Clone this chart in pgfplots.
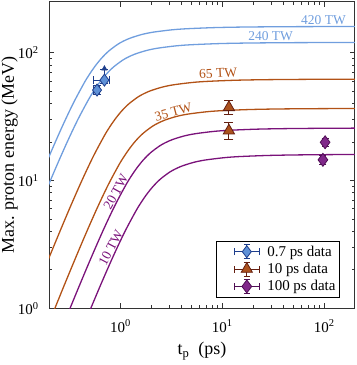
\documentclass[border=0pt]{standalone}
\usepackage{fontspec}
\setmainfont{Liberation Serif}
\usepackage{pgfplots}
\pgfplotsset{compat=1.18}
\definecolor{blueline}{RGB}{112,158,222}
\definecolor{orangeline}{RGB}{178,82,22}
\definecolor{purpleline}{RGB}{122,18,122}
\definecolor{bluefill}{RGB}{95,145,215}
\definecolor{bluedark}{RGB}{30,62,140}
\definecolor{brownfill}{RGB}{172,82,30}
\definecolor{browndark}{RGB}{100,30,15}
\definecolor{purplefill}{RGB}{128,40,138}
\definecolor{purpledark}{RGB}{80,15,85}
\pgfplotsset{
  errleg/.style={legend image code/.code={
    \path[fill=none, draw=none] (0pt,-7.5pt) rectangle (47pt,7.5pt);
    \draw[line width=0.9pt,##1, fill=none] (16pt,0pt) -- (41pt,0pt)
      (16pt,-3.5pt) -- (16pt,3.5pt) (41pt,-3.5pt) -- (41pt,3.5pt)
      (28.5pt,-7pt) -- (28.5pt,7pt) (25.5pt,7pt) -- (31.5pt,7pt) (25.5pt,-7pt) -- (31.5pt,-7pt);
    \draw[##1] plot coordinates {(28.5pt,0pt)};
  }},
  curve/.style={line width=1.3pt, smooth, forget plot},
}
\tikzset{clab/.style={font=\fontsize{13.5}{16}\selectfont, inner sep=0.5pt}}
\begin{document}
\begin{tikzpicture}
\begin{axis}[name=ax, scale only axis, width=306pt, height=307pt,
  xmode=log, ymode=log, xmin=0.2, xmax=200, ymin=1, ymax=250,
  xtick={1,10,100}, xticklabels={10\textsuperscript{0},10\textsuperscript{1},10\textsuperscript{2}},
  ytick={1,10,100}, yticklabels={10\textsuperscript{0},10\textsuperscript{1},10\textsuperscript{2}},
  tick align=inside, major tick length=5pt, minor tick length=3pt,
  every tick/.style={black!80, line width=0.8pt},
  axis line style={black!80, line width=1pt},
  tick label style={font=\fontsize{15}{18}\selectfont},
  xticklabel style={yshift=-8pt},
  yticklabel style={xshift=-7pt},
  xlabel={t\textsubscript{p}\ \ (ps)}, ylabel={Max. proton energy (MeV)},
  label style={font=\fontsize{18}{21}\selectfont},
  xlabel style={at={(axis description cs:0.5,-0.14)}, anchor=center},
  ylabel style={at={(axis description cs:-0.13,0.5)}, anchor=center},
  legend style={at={(0.951,0.036)}, anchor=south east, draw=black, line width=0.8pt,
    font=\fontsize{15}{18}\selectfont, cells={anchor=west}, row sep=1.5pt,
    inner xsep=2pt, inner ysep=2.5pt},
]
% model curves
\addplot[curve, blueline] coordinates {(0.1257,6.4) (0.1921,14.4) (0.2635,25.6) (0.3435,40) (0.4387,57.6) (0.4961,67.6) (0.5642,78.4) (0.6490,90) (0.7627,102.4) (0.9330,115.6) (1.0598,122.5) (1.2414,129.6) (1.6123,138.38) (2.0887,144.4) (3.1690,150.54) (4.4958,153.66) (8.4282,156.82) (16.234,158.40) (39.556,159.36) (78.359,159.68) (200,159.88)};
\addplot[curve, blueline] coordinates {(0.1399,4.8) (0.2138,10.8) (0.2932,19.2) (0.3823,30) (0.4883,43.2) (0.5521,50.7) (0.6279,58.8) (0.7223,67.5) (0.8488,76.8) (1.0383,86.7) (1.1795,91.88) (1.3816,97.2) (1.7944,103.79) (2.3245,108.3) (3.5268,112.91) (5.0034,115.25) (9.3798,117.61) (18.067,118.80) (44.022,119.52) (87.206,119.76) (200,119.9)};
\addplot[curve, orangeline] coordinates {(0.0983,0.62) (0.1987,2.48) (0.3036,5.58) (0.4165,9.92) (0.5429,15.5) (0.6935,22.32) (0.7842,26.2) (0.8918,30.38) (1.0259,34.88) (1.2056,39.68) (1.4747,44.8) (1.6752,47.47) (1.9622,50.22) (2.5485,53.62) (3.3015,55.96) (5.0091,58.34) (7.1062,59.55) (13.322,60.77) (25.66,61.38) (62.524,61.75) (123.86,61.88) (200,61.92)};
\addplot[curve, orangeline] coordinates {(0.1365,0.366) (0.2757,1.464) (0.4213,3.294) (0.5779,5.856) (0.7534,9.15) (0.9624,13.18) (1.0883,15.46) (1.2375,17.93) (1.4236,20.59) (1.6731,23.42) (2.0465,26.44) (2.3247,28.02) (2.7231,29.65) (3.5367,31.66) (4.5816,33.03) (6.9514,34.44) (9.8617,35.15) (18.488,35.87) (35.609,36.24) (86.768,36.45) (200,36.54)};
\addplot[curve, purpleline] coordinates {(0.1606,0.257) (0.3244,1.028) (0.4957,2.313) (0.6799,4.112) (0.8864,6.425) (1.1322,9.252) (1.2803,10.86) (1.4559,12.59) (1.6749,14.46) (1.9683,16.45) (2.4077,18.57) (2.7350,19.68) (3.2036,20.82) (4.1609,22.23) (5.3902,23.19) (8.1781,24.18) (11.602,24.68) (21.750,25.19) (41.894,25.44) (102.08,25.6) (200,25.66)};
\addplot[curve, purpleline] coordinates {(0.2007,0.16) (0.4055,0.64) (0.6196,1.44) (0.8499,2.56) (1.108,4.0) (1.4153,5.76) (1.6004,6.76) (1.8199,7.84) (2.0936,9.0) (2.4604,10.24) (3.0096,11.56) (3.4187,12.25) (4.0045,12.96) (5.2011,13.84) (6.7377,14.44) (10.2226,15.05) (14.5025,15.37) (27.1877,15.68) (52.3669,15.84) (127.6,15.94) (200,15.96)};
% curve labels
\node[clab, blueline] at (axis cs:98.4,178.9) {420 TW};
\node[clab, blueline] at (axis cs:29.8,134) {240 TW};
\node[clab, orangeline, rotate=3] at (axis cs:9.09,68.6) {65 TW};
\node[clab, orangeline, rotate=15, anchor=south] at (axis cs:3.4,31.3) {35 TW};
\node[clab, purpleline, rotate=61, anchor=south] at (axis cs:1.0,7.75) {20 TW};
\node[clab, purpleline, rotate=62, anchor=south] at (axis cs:0.893,2.85) {10 TW};
% data
\addplot[forget plot, only marks, mark=triangle*, mark size=3pt, bluedark, fill=bluedark] coordinates {(0.696,75)};
\addplot[errleg, only marks, mark=diamond*, mark size=6pt, draw=bluedark, fill=bluefill, line width=0.8pt,
  error bars/.cd, x dir=both, x explicit, y dir=both, y explicit,
  error bar style={line width=0.9pt, bluedark},
  error mark options={rotate=90, mark size=4pt, line width=0.9pt, bluedark}]
  coordinates {(0.589,50.9) +- (0.04,4) (0.696,60.9) += (0.083,13) -= (0.15,4)};
\addlegendentry{0.7 ps data}
\addplot[errleg, only marks, mark=triangle*, mark size=6.5pt, draw=browndark, fill=brownfill, line width=0.8pt,
  error bars/.cd, y dir=both, y explicit,
  error bar style={line width=0.9pt, browndark},
  error mark options={rotate=90, mark size=4.5pt, line width=0.9pt, browndark}]
  coordinates {(11.6,37.3) +- (0,4.7) (11.6,24.5) +- (0,3.7)};
\addlegendentry{10 ps data}
\addplot[errleg, only marks, mark=diamond*, mark size=6.5pt, draw=purpledark, fill=purplefill, line width=0.8pt,
  error bars/.cd, y dir=both, y explicit,
  error bar style={line width=0.9pt, purpledark},
  error mark options={rotate=90, mark size=3.5pt, line width=0.9pt, purpledark}]
  coordinates {(102,19.9) +- (0,1.5) (97,14.5) +- (0,1.2)};
\addlegendentry{100 ps data}
\end{axis}
\pgfresetboundingbox
\path ([xshift=-49.3pt,yshift=-56.7pt]ax.south west) rectangle ([xshift=1.5pt,yshift=1.7pt]ax.north east);
\end{tikzpicture}
\end{document}
